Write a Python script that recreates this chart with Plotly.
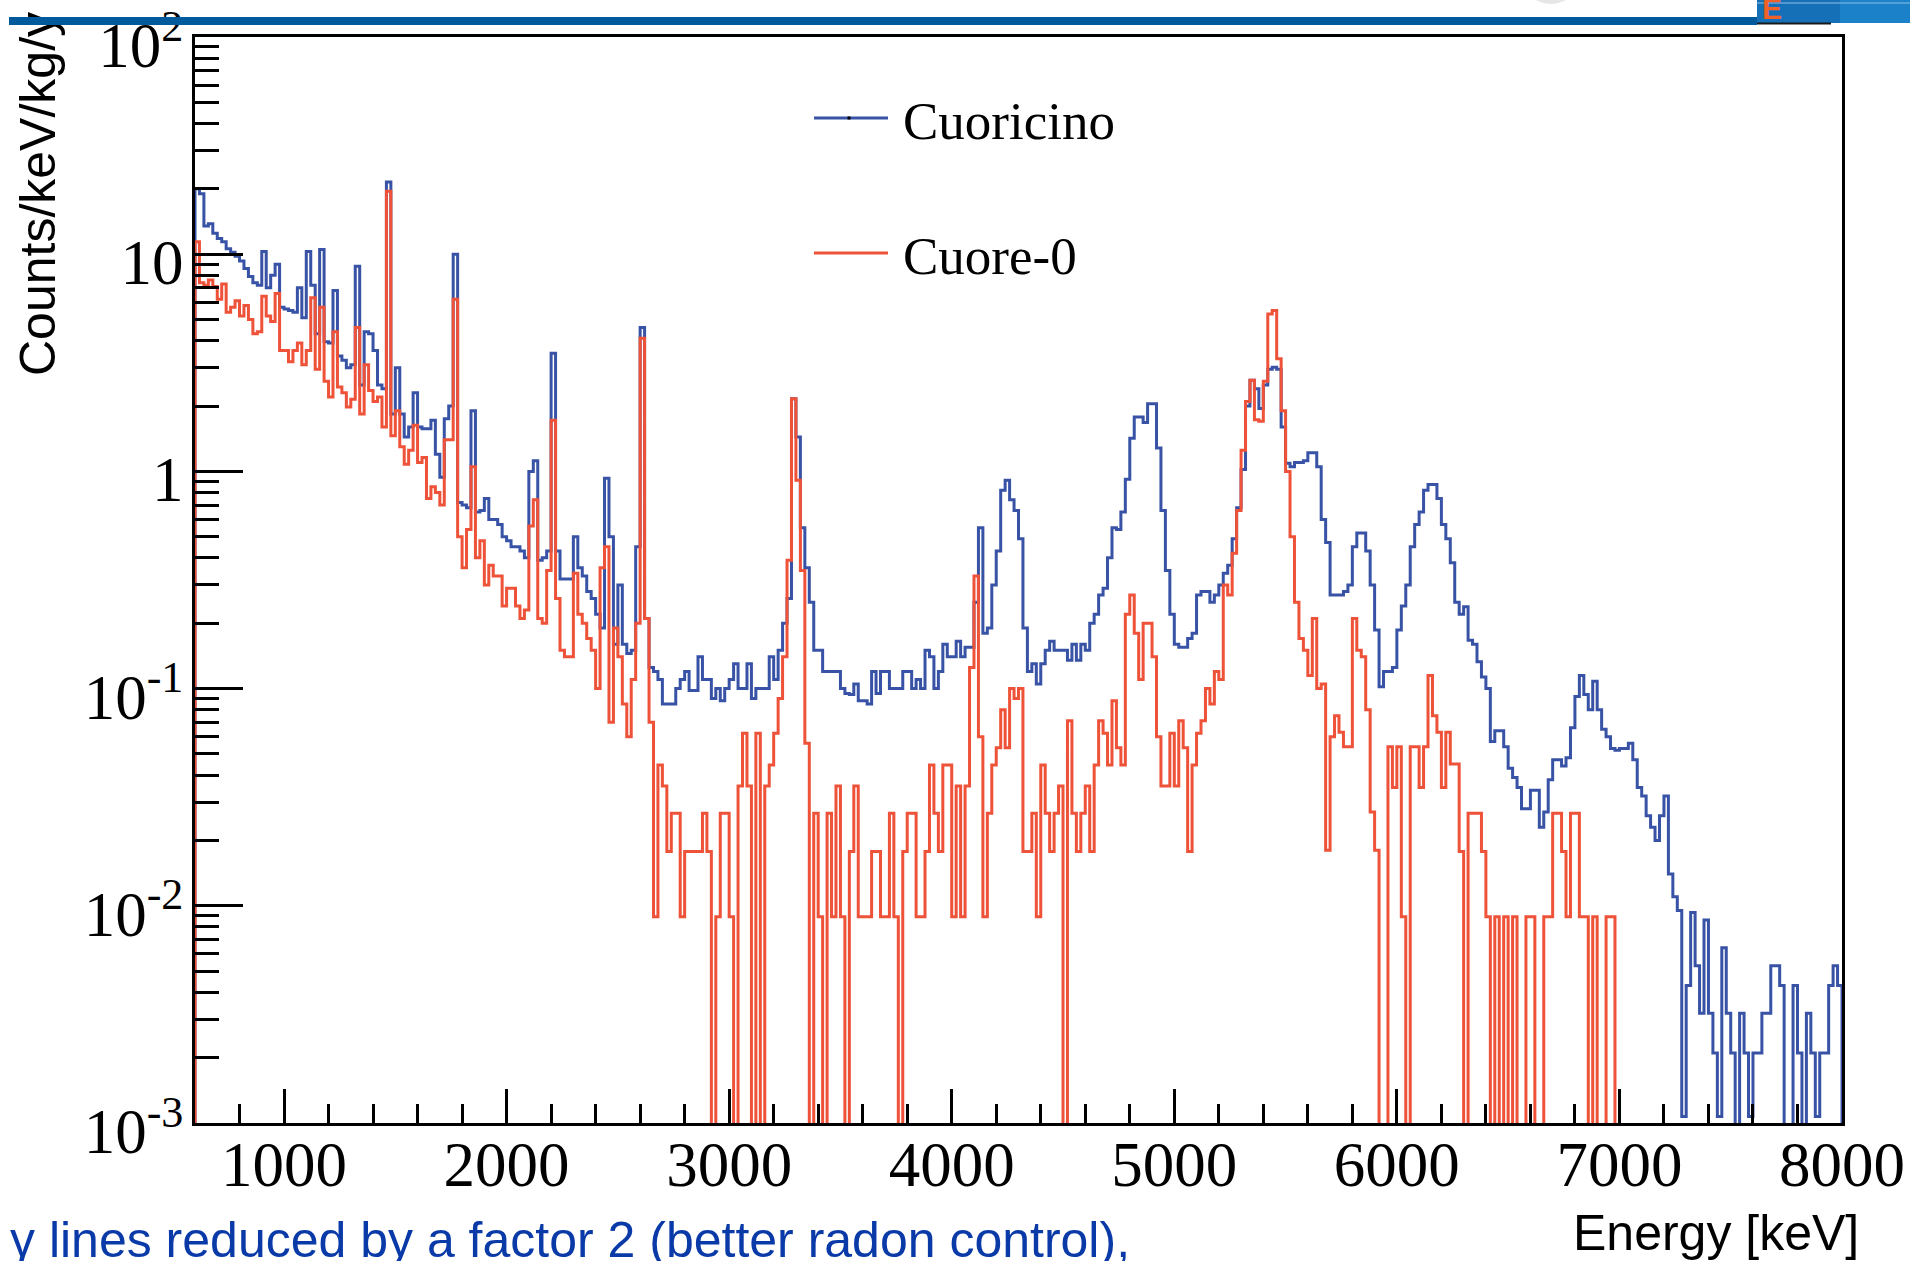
import plotly.graph_objects as go

# ---------------- data (20 keV bins starting at 600 keV) ----------------
E_START = 600
BIN_WIDTH = 20

# Cuoricino  (counts/keV/kg/y), 600 - 2600 keV
cuoricino_low = [
    20, 19, 13.5, 13.8, 12.5, 11.8, 11.4, 10.6, 10.2, 9.8,
    9.3, 8.6, 7.9, 7.4, 7.2, 10.3, 7.0, 8.0, 9.0, 5.7,
    5.6, 5.5, 5.4, 7.0, 5.1, 10.3, 7.2, 4.3, 10.5, 3.95,
    3.9, 6.8, 3.4, 3.25, 3.0, 3.1, 8.8, 2.5, 4.4, 4.3,
    3.6, 2.5, 2.4, 21.5, 1.84, 3.0, 1.84, 1.44, 1.6, 2.3,
    1.6, 1.57, 1.57, 1.72, 1.2, 0.94, 1.75, 2.0, 10.0, 0.72,
    0.7, 0.68, 1.9, 0.65, 0.66, 0.75, 0.6, 0.6, 0.57, 0.5,
    0.48, 0.45, 0.45, 0.43, 0.40, 1.0, 1.12, 0.39, 0.40, 0.43,
    3.5, 0.43, 0.32, 0.32, 0.32, 0.5, 0.36, 0.33, 0.28, 0.26,
    0.22, 0.19, 0.93, 0.5, 0.16, 0.3, 0.16, 0.145, 0.15, 0.45,
]
# Cuoricino, 2600 - 5000 keV
cuoricino_mid = [
    4.6, 0.21, 0.125, 0.12, 0.11, 0.085, 0.085, 0.085, 0.1, 0.11,
    0.12, 0.098, 0.098, 0.14, 0.11, 0.11, 0.09, 0.1, 0.088, 0.1,
    0.11, 0.13, 0.1, 0.1, 0.13, 0.09, 0.1, 0.1, 0.1, 0.14,
    0.11, 0.15, 0.2, 0.26, 2.16, 1.44, 0.55, 0.36, 0.25, 0.15,
    0.15, 0.12, 0.12, 0.12, 0.12, 0.1, 0.095, 0.094, 0.105, 0.088,
    0.088, 0.085, 0.12, 0.095, 0.12, 0.12, 0.1, 0.1, 0.1, 0.12,
    0.12, 0.1, 0.11, 0.1, 0.15, 0.14, 0.1, 0.12, 0.16, 0.14,
    0.14, 0.165, 0.14, 0.155, 0.155, 0.25, 0.55, 0.18, 0.19, 0.3,
    0.43, 0.82, 0.91, 0.74, 0.66, 0.49, 0.19, 0.12, 0.13, 0.105,
    0.13, 0.15, 0.165, 0.15, 0.15, 0.15, 0.135, 0.16, 0.135, 0.16,
    0.15, 0.2, 0.22, 0.27, 0.29, 0.4, 0.55, 0.54, 0.65, 0.92,
    1.42, 1.78, 1.78, 1.68, 2.05, 2.05, 1.28, 0.66, 0.35, 0.22,
]
# Cuoricino, 5000 - 8000 keV
cuoricino_high = [
    0.16, 0.155, 0.155, 0.17, 0.18, 0.27, 0.28, 0.28, 0.25, 0.27,
    0.3, 0.34, 0.37, 0.49, 0.68, 1.02, 2.0, 2.63, 2.4, 1.95,
    2.5, 2.95, 3.02, 2.95, 1.6, 1.09, 1.05, 1.1, 1.1, 1.12,
    1.22, 1.22, 1.05, 0.6, 0.47, 0.27, 0.27, 0.27, 0.28, 0.3,
    0.45, 0.52, 0.52, 0.43, 0.3, 0.186, 0.102, 0.12, 0.12, 0.125,
    0.186, 0.24, 0.3, 0.45, 0.57, 0.65, 0.82, 0.87, 0.87, 0.75,
    0.57, 0.49, 0.38, 0.25, 0.22, 0.238, 0.167, 0.16, 0.133, 0.113,
    0.1, 0.057, 0.064, 0.064, 0.054, 0.043, 0.039, 0.035, 0.028, 0.028,
    0.034, 0.034, 0.023, 0.027, 0.038, 0.047, 0.047, 0.044, 0.048, 0.066,
    0.092, 0.115, 0.094, 0.08, 0.108, 0.08, 0.065, 0.06, 0.053, 0.052,
    0.053, 0.053, 0.056, 0.047, 0.035, 0.032, 0.026, 0.023, 0.020, 0.026,
    0.032, 0.014, 0.011, 0.0095, 0.00107, 0.0043, 0.0093, 0.0053, 0.0032, 0.0086,
    0.0032, 0.0021, 0.00107, 0.0064, 0.0032, 0.0021, 0, 0.0032, 0.0021, 0.00107,
    0.0021, 0.0021, 0.0032, 0.0032, 0.0053, 0.0053, 0.0043, 0, 0, 0.0043,
    0.0021, 0, 0.0032, 0.0021, 0.00107, 0.0021, 0.0021, 0.0043, 0.0053, 0.0043,
]

# Cuore-0, 600 - 2600 keV
cuore0_low = [
    11.4, 7.4, 7.2, 7.6, 7.1, 6.2, 7.3, 5.4, 5.7, 6.1,
    5.2, 5.8, 5.0, 4.3, 4.4, 6.4, 5.2, 4.9, 6.6, 3.6,
    3.6, 3.2, 3.6, 3.9, 3.1, 3.6, 6.3, 2.95, 5.7, 2.6,
    2.2, 4.4, 2.45, 2.3, 1.98, 2.15, 4.6, 1.84, 3.1, 2.36,
    2.1, 2.2, 1.6, 19.5, 1.46, 1.9, 1.3, 1.08, 1.25, 1.63,
    1.1, 1.16, 0.75, 0.85, 0.8, 0.7, 1.4, 1.4, 6.2, 0.5,
    0.36, 0.54, 1.05, 0.4, 0.48, 0.3, 0.37, 0.33, 0.33, 0.24,
    0.29, 0.29, 0.24, 0.21, 0.23, 0.56, 0.74, 0.21, 0.2, 0.35,
    1.72, 0.26, 0.15, 0.14, 0.14, 0.34, 0.22, 0.2, 0.17, 0.15,
    0.1, 0.36, 0.45, 0.07, 0.19, 0.14, 0.085, 0.06, 0.11, 0.2,
]
# Cuore-0, 2600 - 5000 keV
cuore0_mid = [
    4.1, 0.21, 0.07, 0.0089, 0.0445, 0.0356, 0.0178, 0.0267, 0.0267, 0.0089,
    0.0178, 0.0178, 0.0178, 0.0178, 0.0267, 0.0178, 0, 0.0089, 0.0267, 0.0267,
    0.0089, 0, 0.0356, 0.0623, 0.0356, 0, 0.0623, 0, 0.0356, 0.0445,
    0.0623, 0.09, 0.14, 0.39, 2.16, 0.91, 0.35, 0.056, 0, 0.0267,
    0.0089, 0, 0.0267, 0.0089, 0.0356, 0.0089, 0, 0.0178, 0.0356, 0.0089,
    0.0089, 0.0089, 0.0178, 0.0178, 0.0089, 0.0089, 0.0267, 0.0089, 0, 0.0178,
    0.0267, 0.0267, 0.0089, 0.0089, 0.0178, 0.0445, 0.0267, 0.0178, 0.0445, 0.0445,
    0.0089, 0.0356, 0.0089, 0.0356, 0.125, 0.33, 0.06, 0.0089, 0.0267, 0.0445,
    0.0534, 0.08, 0.0534, 0.1, 0.09, 0.1, 0.0178, 0.0178, 0.0267, 0.0089,
    0.0445, 0.0267, 0.0178, 0.0267, 0.0356, 0, 0.0712, 0.0267, 0.0178, 0.0267,
    0.0356, 0.0178, 0.0445, 0.0712, 0.0623, 0.0445, 0.088, 0.0534, 0.0445, 0.22,
    0.27, 0.18, 0.11, 0.2, 0.2, 0.14, 0.06, 0.0356, 0.0356, 0.0623,
]
# Cuore-0, 5000 - 8000 keV
cuore0_high = [
    0.0356, 0.0712, 0.0534, 0.0178, 0.0445, 0.0623, 0.0712, 0.1, 0.085, 0.12,
    0.11, 0.3, 0.27, 0.42, 0.66, 1.25, 2.1, 2.63, 1.73, 1.7,
    2.6, 5.3, 5.5, 3.3, 1.9, 1.0, 0.5, 0.25, 0.17, 0.15,
    0.115, 0.21, 0.1, 0.105, 0.018, 0.06, 0.075, 0.063, 0.054, 0.054,
    0.21, 0.15, 0.14, 0.08, 0.027, 0.018, 0, 0, 0.054, 0.035,
    0.054, 0.0089, 0, 0.054, 0.054, 0.035, 0.054, 0.115, 0.075, 0.063,
    0.035, 0.063, 0.045, 0.045, 0.0178, 0, 0.0267, 0.0267, 0.0267, 0.0178,
    0.0089, 0, 0.0089, 0, 0.0089, 0, 0.0089, 0, 0, 0.0089,
    0.0089, 0, 0, 0.0089, 0.0089, 0.0267, 0.0267, 0.0178, 0.0089, 0.0267,
    0.0267, 0.0089, 0.0089, 0, 0.0089, 0, 0, 0.0089, 0.0089, 0,
    0, 0, 0, 0, 0, 0, 0, 0, 0, 0,
    0, 0, 0, 0, 0, 0, 0, 0, 0, 0,
    0, 0, 0, 0, 0, 0, 0, 0, 0, 0,
    0, 0, 0, 0, 0, 0, 0, 0, 0, 0,
    0, 0, 0, 0, 0, 0, 0, 0, 0, 0,
]

series_names = ["Cuoricino", "Cuore-0"]
x_tick_values = [1000, 2000, 3000, 4000, 5000, 6000, 7000, 8000]
x_tick_labels = ["1000", "2000", "3000", "4000", "5000", "6000", "7000", "8000"]
y_tick_values = [1e-3, 1e-2, 1e-1, 1, 10, 100]
y_tick_labels = ["10<sup>-3</sup>", "10<sup>-2</sup>", "10<sup>-1</sup>", "1", "10", "10<sup>2</sup>"]

cuoricino = cuoricino_low + cuoricino_mid + cuoricino_high
cuore0 = cuore0_low + cuore0_mid + cuore0_high
n_bins = len(cuoricino)
edges = [E_START + BIN_WIDTH * i for i in range(n_bins + 1)]

# ---------------- layout geometry ----------------
W, H = 1910, 1261
ML, MR, MT, MB = 195, 68, 37, 138
PW = W - ML - MR
PH = H - MT - MB


def px_x(px):
    return (px - ML) / PW


def px_y(py):
    return (H - MB - py) / PH


FLOOR = 1e-5  # empty bins are drawn below the axis floor


def hist_path(vals):
    ys = [v if v > 0 else FLOOR for v in vals]
    xs = [edges[0]] + edges[:-1] + [edges[-1], edges[-1]]
    yy = [FLOOR] + ys + [ys[-1], FLOOR]
    return xs, yy


BLUE = "#3853a6"
RED = "#ee5239"

fig = go.Figure()
for vals, color, name, w in [(cuoricino, BLUE, series_names[0], 3.0),
                             (cuore0, RED, series_names[1], 3.0)]:
    xs, ys = hist_path(vals)
    fig.add_trace(go.Scatter(x=xs, y=ys, mode="lines", name=name,
                             line=dict(color=color, width=w, shape="hv"),
                             showlegend=False, hoverinfo="skip"))

serif = "Liberation Serif, Times New Roman, serif"
sans = "Liberation Sans, Arial, sans-serif"

x_minor = [v for v in range(800, 8000, 200) if v % 1000 != 0]
y_minor = [k * 10.0 ** d for d in range(-3, 2) for k in range(2, 10)]

fig.update_layout(
    width=W, height=H,
    margin=dict(l=ML, r=MR, t=MT, b=MB, pad=0),
    paper_bgcolor="white", plot_bgcolor="white",
    showlegend=False,
    xaxis=dict(
        range=[600, 8000], showgrid=False, zeroline=False,
        showline=True, linecolor="black", linewidth=3, mirror=True,
        ticks="inside", ticklen=34, tickwidth=2.5, tickcolor="black",
        tickmode="array", tickvals=x_tick_values, ticktext=x_tick_labels,
        tickfont=dict(family=serif, size=63, color="black"),
        minor=dict(ticks="inside", ticklen=19, tickwidth=2.5, tickcolor="black",
                   tickmode="array", tickvals=x_minor, showgrid=False),
        automargin=False, ticklabelstandoff=-16, ticklabeloverflow="allow",
    ),
    yaxis=dict(
        type="log", range=[-3.0002, 2.0002], showgrid=False, zeroline=False,
        showline=True, linecolor="black", linewidth=3, mirror=True,
        ticks="inside", ticklen=48, tickwidth=2.5, tickcolor="black",
        tickmode="array", tickvals=y_tick_values, ticktext=y_tick_labels,
        tickfont=dict(family=serif, size=63, color="black"),
        minor=dict(ticks="inside", ticklen=24, tickwidth=2.5, tickcolor="black",
                   tickmode="array", tickvals=y_minor, showgrid=False),
        automargin=False, ticklabelstandoff=-4, ticklabelshift=8,
        ticklabeloverflow="allow",
    ),
)

shapes = []
annotations = []

# legend (drawn by hand, like the ROOT TLegend without border)
for name, color, ly in [(series_names[0], BLUE, 118), (series_names[1], RED, 253)]:
    shapes.append(dict(type="line", xref="paper", yref="paper",
                       x0=px_x(814), x1=px_x(888), y0=px_y(ly), y1=px_y(ly),
                       line=dict(color=color, width=3)))
    annotations.append(dict(text=name, xref="paper", yref="paper",
                            x=px_x(901), y=px_y(ly + 3), xanchor="left", yanchor="middle",
                            showarrow=False, font=dict(family=serif, size=53, color="black")))
shapes.append(dict(type="rect", xref="paper", yref="paper",
                   x0=px_x(847.5), x1=px_x(850.5), y0=px_y(119.5), y1=px_y(116.5),
                   fillcolor="black", line=dict(width=0)))

# logo fragment at the top right of the slide
shapes.append(dict(type="circle", xref="paper", yref="paper",
                   x0=px_x(1522), x1=px_x(1580), y0=px_y(4), y1=px_y(-54),
                   fillcolor="#e6e6e6", line=dict(width=0), layer="above"))
shapes.append(dict(type="rect", xref="paper", yref="paper",
                   x0=px_x(1757), x1=px_x(1911), y0=px_y(23), y1=px_y(-1),
                   fillcolor="#1670b8", line=dict(width=0), layer="above"))
shapes.append(dict(type="rect", xref="paper", yref="paper",
                   x0=px_x(1840), x1=px_x(1911), y0=px_y(23), y1=px_y(-1),
                   fillcolor="#1d86cc", line=dict(width=0), layer="above", opacity=0.8))
shapes.append(dict(type="line", xref="paper", yref="paper",
                   x0=px_x(1757), x1=px_x(1911), y0=px_y(3), y1=px_y(3),
                   line=dict(color="#8fc0e6", width=1), layer="above"))
shapes.append(dict(type="line", xref="paper", yref="paper",
                   x0=px_x(1757), x1=px_x(1831), y0=px_y(23.5), y1=px_y(23.5),
                   line=dict(color="#1a1a1a", width=2), layer="above"))

# axis titles and slide text
annotations.append(dict(text="Counts/keV/kg/y", xref="paper", yref="paper",
                        x=px_x(38), y=px_y(194), xanchor="center", yanchor="middle",
                        textangle=-90, showarrow=False,
                        font=dict(family=sans, size=50, color="black")))
annotations.append(dict(text="Energy [keV]", xref="paper", yref="paper",
                        x=px_x(1861), y=px_y(1233), xanchor="right", yanchor="middle",
                        showarrow=False, font=dict(family=sans, size=50, color="black")))
annotations.append(dict(text="γ lines reduced by a factor 2 (better radon control),",
                        xref="paper", yref="paper",
                        x=px_x(8), y=px_y(1240), xanchor="left", yanchor="middle",
                        showarrow=False, font=dict(family=sans, size=50, color="#0a3aa8")))
annotations.append(dict(text="<b>E</b>", xref="paper", yref="paper",
                        x=px_x(1760), y=px_y(8), xanchor="left", yanchor="middle",
                        showarrow=False, font=dict(family=sans, size=30, color="#f0622a")))
# slide header bar (drawn last so it sits on top of the axis title)
annotations.append(dict(text=" ", xref="paper", yref="paper",
                        x=px_x(9), y=px_y(17), xanchor="left", yanchor="top",
                        width=1748, height=8, bgcolor="#005a9c", borderpad=0, borderwidth=0,
                        showarrow=False, font=dict(size=1)))

fig.update_layout(shapes=shapes, annotations=annotations)
fig.write_html("out.html")
